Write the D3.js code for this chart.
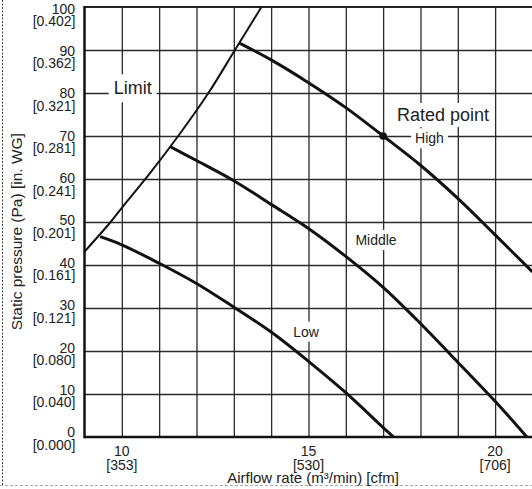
<!DOCTYPE html>
<html>
<head>
<meta charset="utf-8">
<script src="https://cdn.jsdelivr.net/npm/d3@7"></script>
<style>
  body { margin: 0; background: #fff; }
  svg { display: block; font-family: "Liberation Sans", Arial, Helvetica, sans-serif; }
</style>
</head>
<body>
<div class="chart"></div>
<script>
// tick labels
var xTicks = [10, 15, 20];
var xTicksCfm = ["[353]", "[530]", "[706]"];
var yTicks = [0, 10, 20, 30, 40, 50, 60, 70, 80, 90, 100];
var yTicksWG = ["[0.000]", "[0.040]", "[0.080]", "[0.121]", "[0.161]", "[0.201]",
                "[0.241]", "[0.281]", "[0.321]", "[0.362]", "[0.402]"];

// curves, [airflow m3/min, static pressure Pa]
var limit = [[9, 43.1], [9.7, 50], [10, 53.3], [10.75, 61.3], [11.51, 70], [12.32, 80], [13.03, 90], [13.74, 100]];
var high = [[13.15, 91.6], [14, 87.7], [15, 82.4], [16, 76.6], [17, 70.0], [18, 63.2], [19, 55.5], [20, 47.0], [21, 38.4]];
var middle = [[11.3, 67.5], [12, 64.3], [13, 59.6], [14, 54.1], [15, 48.5], [16, 42.0], [17, 34.8], [18, 26.4], [19, 17.4], [20, 8.3], [20.85, 0]];
var low = [[9.42, 46.6], [10, 44.7], [11, 40.4], [12, 35.7], [13, 30.2], [14, 24.4], [15, 17.6], [16, 10.3], [17, 2.2], [17.28, 0]];
var ratedPoint = [17, 70];

var width = 532, height = 489;
var plotLeft = 84.5, plotTop = 7, plotBottom = 437;

var svg = d3.select("div.chart").append("svg")
    .attr("width", width)
    .attr("height", height);

var x = d3.scaleLinear().domain([9, 21]).range([plotLeft, plotLeft + 12 * 37.33]);
var y = d3.scaleLinear().domain([0, 100]).range([plotBottom, plotTop]);
// tick text sits a little lower near the top
var yLab = d3.scaleLinear().domain([0, 100]).range([437.3, 13.5]);

// page border (dotted left, dashed bottom)
svg.append("line")
    .attr("x1", 2.5).attr("x2", 2.5).attr("y1", 0).attr("y2", 485)
    .attr("stroke", "#444").attr("stroke-width", 1).attr("stroke-dasharray", "2,1.5");
svg.append("line")
    .attr("x1", 0).attr("x2", width).attr("y1", 485.5).attr("y2", 485.5)
    .attr("stroke", "#aaa").attr("stroke-width", 1).attr("stroke-dasharray", "3,2");

// grid
svg.append("g")
    .attr("transform", "translate(0," + plotBottom + ")")
    .call(d3.axisBottom(x).tickValues(d3.range(10, 21)).tickSize(-(plotBottom - plotTop)).tickFormat(""))
    .call(function(g) { g.select(".domain").remove(); })
    .selectAll("line").attr("stroke", "#2a2a2a").attr("stroke-width", 1.3);

svg.append("g")
    .attr("transform", "translate(" + plotLeft + ",0)")
    .call(d3.axisLeft(y).tickValues(d3.range(10, 100, 10)).tickSize(-(width - plotLeft)).tickFormat(""))
    .call(function(g) { g.select(".domain").remove(); })
    .selectAll("line").attr("stroke", "#2a2a2a").attr("stroke-width", 1.3);

// frame
svg.append("line").attr("x1", plotLeft).attr("x2", width).attr("y1", plotBottom).attr("y2", plotBottom)
    .attr("stroke", "#111").attr("stroke-width", 2.5);
svg.append("line").attr("x1", plotLeft).attr("x2", width).attr("y1", plotTop).attr("y2", plotTop)
    .attr("stroke", "#222").attr("stroke-width", 2);
svg.append("line").attr("x1", plotLeft).attr("x2", plotLeft).attr("y1", plotTop - 1).attr("y2", plotBottom + 1.2)
    .attr("stroke", "#111").attr("stroke-width", 2.5);

// y tick labels
var yl = svg.append("g").attr("font-size", 14).attr("fill", "#222").attr("text-anchor", "end");
yl.selectAll("text.v")
    .data(yTicks)
  .enter().append("text")
    .attr("class", "v")
    .attr("x", 75)
    .attr("y", function(d) { return yLab(d); })
    .text(function(d) { return d; });
yl.selectAll("text.w")
    .data(yTicks)
  .enter().append("text")
    .attr("class", "w")
    .attr("x", 75.5)
    .attr("y", function(d) { return yLab(d) + 12.5; })
    .text(function(d, i) { return yTicksWG[i]; });

// x tick labels
var xl = svg.append("g").attr("font-size", 14).attr("fill", "#222").attr("text-anchor", "middle");
xl.selectAll("text.v")
    .data(xTicks)
  .enter().append("text")
    .attr("class", "v")
    .attr("x", function(d) { return x(d); })
    .attr("y", 456)
    .text(function(d) { return d; });
xl.selectAll("text.c")
    .data(xTicks)
  .enter().append("text")
    .attr("class", "c")
    .attr("x", function(d) { return x(d); })
    .attr("y", 469.5)
    .text(function(d, i) { return xTicksCfm[i]; });

// axis titles
svg.append("text")
    .attr("x", 313).attr("y", 483)
    .attr("text-anchor", "middle")
    .attr("font-size", 15).attr("fill", "#222")
    .text("Airflow rate (m³/min) [cfm]");
svg.append("text")
    .attr("transform", "translate(21.5,231.7) rotate(-90)")
    .attr("text-anchor", "middle")
    .attr("font-size", 15.5).attr("fill", "#222")
    .text("Static pressure (Pa) [in. WG]");

// curve labels with white boxes
var labels = [
  {text: "Limit", x: 132.7, y: 94.3, size: 18, pad: [5, 4]},
  {text: "Rated point", x: 443, y: 121, size: 18, pad: [3, 2]},
  {text: "High", x: 429.5, y: 143.3, size: 14, pad: [4, 2]},
  {text: "Middle", x: 376, y: 245, size: 14, pad: [2, 2]},
  {text: "Low", x: 306, y: 336.7, size: 14, pad: [2, 2]}
];
var lg = svg.append("g");
labels.forEach(function(l) {
  var bg = lg.append("rect").attr("fill", "#fff");
  var t = lg.append("text")
      .attr("x", l.x).attr("y", l.y)
      .attr("text-anchor", "middle")
      .attr("font-size", l.size)
      .attr("fill", "#222")
      .text(l.text);
  var b = t.node().getBBox();
  bg.attr("x", b.x - l.pad[0]).attr("y", b.y - l.pad[1])
    .attr("width", b.width + 2 * l.pad[0]).attr("height", b.height + 2 * l.pad[1]);
});

// curves
var line = d3.line()
    .x(function(d) { return x(d[0]); })
    .y(function(d) { return y(d[1]); })
    .curve(d3.curveCatmullRom);

svg.append("defs").append("clipPath").attr("id", "plot")
  .append("rect").attr("x", plotLeft).attr("y", plotTop).attr("width", width - plotLeft).attr("height", plotBottom - plotTop);

var cg = svg.append("g").attr("clip-path", "url(#plot)");
cg.append("path")
    .datum(limit)
    .attr("fill", "none")
    .attr("stroke", "#111")
    .attr("stroke-width", 2)
    .attr("d", line);

[high, middle, low].forEach(function(s) {
  cg.append("path")
      .datum(s)
      .attr("fill", "none")
      .attr("stroke", "#111")
      .attr("stroke-width", 3)
      .attr("stroke-linejoin", "round")
      .attr("d", line);
});

svg.append("circle")
    .attr("cx", x(ratedPoint[0]))
    .attr("cy", y(ratedPoint[1]))
    .attr("r", 3.8)
    .attr("fill", "#111");
</script>
</body>
</html>
